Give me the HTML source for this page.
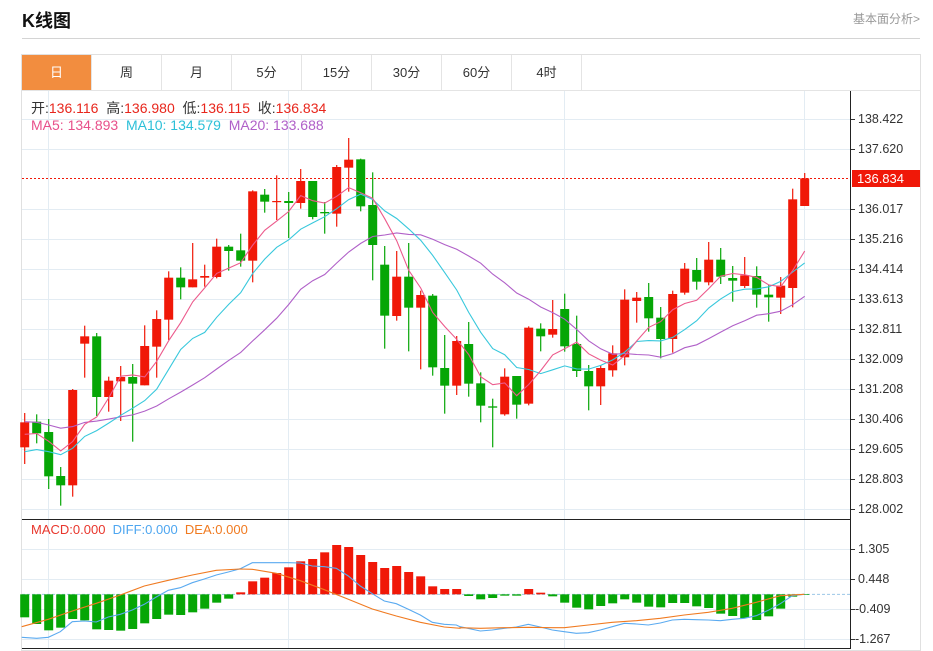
<!DOCTYPE html>
<html><head><meta charset="utf-8"><style>
body{margin:0;background:#fff;width:933px;height:651px;overflow:hidden;font-family:"Liberation Sans","Noto Sans CJK SC",sans-serif;position:relative}
.t{position:absolute;white-space:nowrap}
.tab{position:absolute;top:55px;height:35px;width:69px;border-right:1px solid #e4e4e4;text-align:center;line-height:35px;font-size:13px;color:#333}
</style></head><body>
<div class="t" style="left:22px;top:7px;font-size:18px;font-weight:bold;color:#111">K线图</div>
<div class="t" style="left:853px;top:10px;font-size:12px;color:#999">基本面分析&gt;</div>
<div style="position:absolute;left:22px;top:38px;width:898px;height:1px;background:#d4d4d4"></div>
<div style="position:absolute;left:21px;top:54px;width:898px;height:595px;border:1px solid #e0e0e0"></div>
<div style="position:absolute;left:22px;top:90px;width:898px;height:1px;background:#e4e4e4"></div>
<div class="tab" style="left:22px;background:#f28d3f;color:#fff">日</div>
<div class="tab" style="left:92px">周</div>
<div class="tab" style="left:162px">月</div>
<div class="tab" style="left:232px">5分</div>
<div class="tab" style="left:302px">15分</div>
<div class="tab" style="left:372px">30分</div>
<div class="tab" style="left:442px">60分</div>
<div class="tab" style="left:512px">4时</div>
<svg id="s" width="933" height="651" style="position:absolute;left:0;top:0"></svg>
<div class="t" style="left:31px;top:98px;font-size:14px;color:#333">开:<span style="color:#e8261c">136.116</span>&nbsp; 高:<span style="color:#e8261c">136.980</span>&nbsp; 低:<span style="color:#e8261c">136.115</span>&nbsp; 收:<span style="color:#e8261c">136.834</span></div>
<div class="t" style="left:31px;top:117px;font-size:14px"><span style="color:#e8508a">MA5: 134.893</span>&nbsp; <span style="color:#2cc0d8">MA10: 134.579</span>&nbsp; <span style="color:#b060c8">MA20: 133.688</span></div>
<div class="t" style="left:31px;top:522px;font-size:13px"><span style="color:#e8362c">MACD:0.000</span>&nbsp; <span style="color:#4ea6f0">DIFF:0.000</span>&nbsp; <span style="color:#f07a20">DEA:0.000</span></div>
<script>
var s=document.getElementById('s'),h='';
function L(x1,y1,x2,y2,c,w,d){h+='<line x1="'+x1+'" y1="'+y1+'" x2="'+x2+'" y2="'+y2+'" stroke="'+c+'" stroke-width="'+(w||1)+'"'+(d?' stroke-dasharray="'+d+'"':'')+'/>';}
function R(x,y,w,hh,c){h+='<rect x="'+x+'" y="'+y+'" width="'+w+'" height="'+hh+'" fill="'+c+'"/>';}
function T(x,y,t,c){h+='<text x="'+x+'" y="'+y+'" font-size="12.5" fill="'+(c||'#333')+'" font-family="Liberation Sans,sans-serif">'+t+'</text>';}
var G='#e3ecf3';
var pl=[[119,'138.422'],[149,'137.620'],[209,'136.017'],[239,'135.216'],[269,'134.414'],[299,'133.613'],[329,'132.811'],[359,'132.009'],[389,'131.208'],[419,'130.406'],[449,'129.605'],[479,'128.803'],[509,'128.002']];
pl.forEach(function(p){L(22,p[0]+.5,850,p[0]+.5,G);L(850,p[0]+.5,855,p[0]+.5,'#333');T(858,p[0]+4,p[1]);});
[[549,'1.305'],[579,'0.448'],[609,'-0.409'],[639,'-1.267']].forEach(function(p){L(22,p[0]+.5,850,p[0]+.5,G);L(850,p[0]+.5,855,p[0]+.5,'#333');T(p[1][0]=='-'?855:858,p[0]+4,p[1]);});
[48.5,288.5,564.5,804.5].forEach(function(x){L(x,91,x,648,G);});
L(22,519.5,850,519.5,'#222');L(22,648.5,850,648.5,'#222');L(850.5,91,850.5,649,'#222');
L(22,178.5,850,178.5,'#f01808',1,'2,2');
var c=[['r',877,952,849,1002],['g',875,910,853,940],['g',906,1039,867,1077],['g',1038,1066,1011,1127],['r',780,1066,777,1100],['r',619,641,587,743],['g',619,801,609,858],['r',752,801,740,845],['r',741,754,708,873],['g',741,761,702,935],['r',648,766,586,766],['r',567,650,541,743],['r',443,569,424,630],['g',443,472,412,508],['r',448,472,339,472],['r',438,443,404,470],['r',350,441,326,445],['g',350,363,345,422],['g',361,392,311,410],['r',184,392,181,457],['g',194,215,177,248],['r',213,215,136,270],['g',213,219,186,324],['r',153,219,117,236],['g',153,261,153,268],['g',246,250,216,311],['r',111,251,105,290],['r',89,113,24,185],['g',88,229,86,244],['g',225,345,127,451],['g',404,557,348,656],['r',440,558,363,572],['g',440,533,339,664],['r',495,533,482,718],['g',497,712,492,737],['g',714,767,615,851],['r',633,767,618,795],['g',642,761,576,800],
['g',760,827,727,877],['g',829,833,806,952],['r',740,853,715,857],['g',738,824,738,866],['r',593,821,589,826],['g',596,619,580,664],['r',597,614,510,623],['g',537,649,491,665],['g',642,723,557,741],['g',723,769,705,841],['r',714,769,706,825],['r',670,721,646,740],['r',509,682,478,706],['r',503,513,486,578],['g',501,565,459,605],['g',563,627,531,685],['r',492,627,482,668],['r',416,488,399,494],['g',420,455,384,479],['r',389,457,336,466],['g',389,440,354,462],['g',444,452,408,515],['r',436,468,381,474],['g',438,494,409,533],['g',494,502,466,575],['r',467,503,441,552],['r',208,474,176,532],['r',145,228,129,228]];
var RC='#f01808',GC='#06a606';
function X(i){return 24.7+12*i;}
function Y(z){return 130+z/3;}
var closes=[];
c.forEach(function(k,i){var col=k[0]=='r'?RC:GC,x=X(i);
 L(x,Y(k[3]),x,Y(k[4]),col,1.2);
 var t=Y(k[1]),b=Y(k[2]);R(x-4.5,t,9,Math.max(b-t,1.2),col);
 closes.push(k[0]=='r'?t:b);});
function ma(n,pad,col){var p='';for(var i=0;i<closes.length;i++){var sm=0;for(var j=i-n+1;j<=i;j++)sm+=j<0?pad:closes[j];p+=(i?'L':'M')+X(i).toFixed(1)+','+(sm/n).toFixed(1)+' ';}
 h+='<path d="'+p+'" fill="none" stroke="'+col+'" stroke-width="1.1"/>';}
ma(20,Y(875),'#b060c8');ma(10,Y(975),'#38c8dc');ma(5,Y(922),'#ec5a8c');
var mb=[307,327,346,338,312,316,343,345,347,342,325,312,299,300,292,281,263,251,232,199,188,174,157,139,132,112,90,96,120,141,159,153,171,184,214,222,222,243,253,249,242,242,222,233,244,263,278,283,273,265,253,263,275,277,264,264,274,279,296,303,309,315,304,281,245,240];
var Z=515+238/3;
L(22,Z,850,Z,'#9cc8e8',1,'3,2');
mb.forEach(function(v,i){var y=515+v/3,x=X(i)-4.5;if(y<Z)R(x,y,9,Z-y,RC);else R(x,Z,9,y-Z,GC);});
function pl2(a,b,col){var p='';a.forEach(function(q,i){p+=(i?'L':'M')+(q[0]/3).toFixed(1)+','+(515+q[1]/3).toFixed(1)+' ';});b.forEach(function(q){p+='L'+(460+q[0]/3).toFixed(1)+','+(515+q[1]/3).toFixed(1)+' ';});h+='<path d="'+p+'" fill="none" stroke="'+col+'" stroke-width="1.1"/>';}
pl2([[65,367],[110,370],[145,367],[181,350],[217,320],[253,318],[289,321],[325,306],[361,298],[397,285],[433,268],[469,246],[505,226],[541,218],[577,203],[613,192],[649,180],[685,171],[721,161],[757,143],[793,143],[829,143],[865,143],[901,144],[937,153],[973,155],[1009,160],[1045,183],[1081,213],[1117,236],[1153,258],[1189,266],[1225,283],[1261,300],[1297,322],[1333,328],[1369,330]],
[[0,335],[61,348],[97,345],[133,340],[169,336],[205,328],[241,336],[277,345],[313,350],[349,355],[385,353],[421,345],[457,335],[493,325],[529,327],[565,330],[601,324],[637,315],[673,313],[709,314],[745,315],[781,317],[817,313],[853,310],[889,302],[925,286],[961,266],[997,242],[1033,238]],'#5aaaf0');
pl2([[65,335],[145,313],[217,288],[289,265],[361,240],[433,213],[505,196],[577,180],[649,166],[721,162],[757,163],[829,175],[901,197],[973,224],[1045,253],[1117,282],[1189,303],[1261,322],[1333,336],[1380,340]],
[[0,338],[61,340],[133,338],[205,337],[277,338],[313,338],[385,330],[457,322],[529,317],[601,310],[673,300],[745,292],[817,280],[889,262],[961,242],[1033,238]],'#f07a20');
R(852,170,68,17,'#f01808');
h+='<text x="857" y="183" font-size="13" fill="#fff" font-family="Liberation Sans,sans-serif">136.834</text>';
s.innerHTML=h;
</script>
</body></html>
